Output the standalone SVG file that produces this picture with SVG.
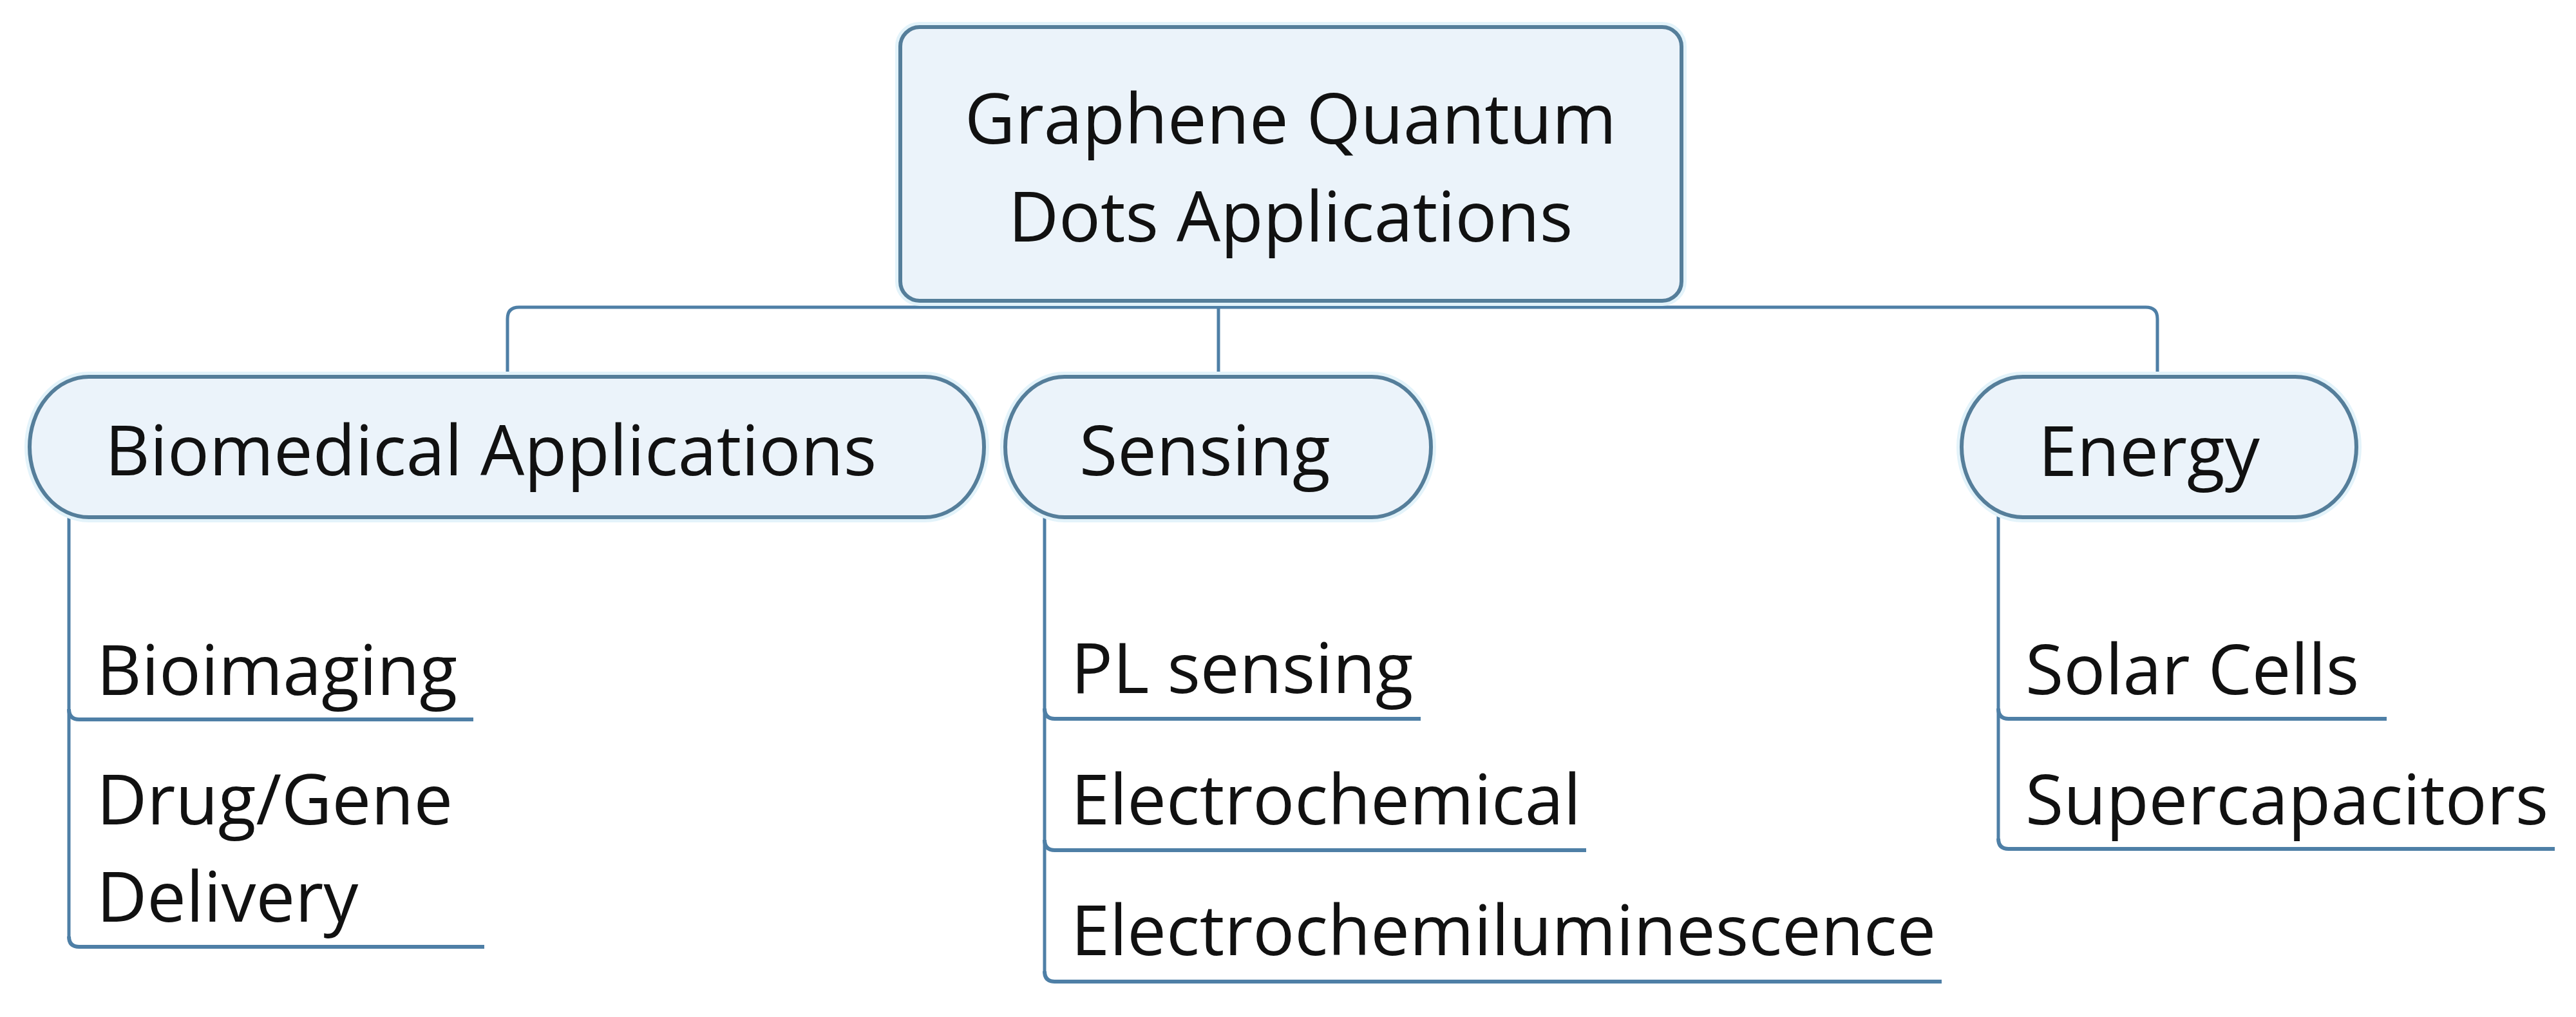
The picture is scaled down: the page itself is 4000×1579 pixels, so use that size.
<svg xmlns="http://www.w3.org/2000/svg" width="4000" height="1579" viewBox="0 0 4000 1579">
<style>
.box{fill:#EBF3FA;stroke:#557E9A;stroke-width:6}
.halo{fill:none;stroke:#E3F3FA;stroke-width:16}
.ln{fill:none;stroke:#4E7FA6;stroke-width:5;stroke-linecap:butt}
.ul{fill:none;stroke:#4E7FA6;stroke-width:6}
text{font-family:"Open Sans","Noto Sans","Liberation Sans",sans-serif;font-size:108px;fill:#111111}
</style>
<rect width="4000" height="1579" fill="#FFFFFF"/>
<g id="connectors">
<path class="ln" d="M2009,467 V477"/>
<path class="ln" d="M788,584 V495 Q788,477 806,477 H3332 Q3350,477 3350,495 V584"/>
<path class="ln" d="M1892,477 V584"/>
<path class="ln" d="M107,790 V1454"/>
<path class="ul" d="M107,1101 Q107,1117 123,1117 H735"/>
<path class="ul" d="M107,1454 Q107,1470 123,1470 H752"/>
<path class="ln" d="M1622,790 V1508"/>
<path class="ul" d="M1622,1100 Q1622,1116 1638,1116 H2206"/>
<path class="ul" d="M1622,1304 Q1622,1320 1638,1320 H2463"/>
<path class="ul" d="M1622,1508 Q1622,1524 1638,1524 H3015"/>
<path class="ln" d="M3103,790 V1302"/>
<path class="ul" d="M3103,1100 Q3103,1116 3119,1116 H3706"/>
<path class="ul" d="M3103,1302 Q3103,1318 3119,1318 H3967"/>
</g>
<g id="root">
<rect class="halo" x="1398" y="42" width="1213" height="425" rx="30" ry="30"/>
<rect class="box" x="1398" y="42" width="1213" height="425" rx="30" ry="30"/>
<text x="2004" y="223" text-anchor="middle">Graphene Quantum</text>
<text x="2004" y="375" text-anchor="middle">Dots Applications</text>
</g>
<g id="biomedical">
<rect class="halo" x="46" y="585" width="1482" height="218" rx="92" ry="109"/>
<rect class="box" x="46" y="585" width="1482" height="218" rx="92" ry="109"/>
<text x="163" y="738">Biomedical Applications</text>
</g>
<g id="sensing">
<rect class="halo" x="1561" y="585" width="661" height="218" rx="92" ry="109"/>
<rect class="box" x="1561" y="585" width="661" height="218" rx="92" ry="109"/>
<text x="1676" y="738">Sensing</text>
</g>
<g id="energy">
<rect class="halo" x="3046" y="585" width="613" height="218" rx="95" ry="109"/>
<rect class="box" x="3046" y="585" width="613" height="218" rx="95" ry="109"/>
<text x="3165" y="739">Energy</text>
</g>
<g id="bioimaging"><text x="150" y="1079">Bioimaging</text></g>
<g id="drug-gene-delivery"><text x="150" y="1280">Drug/Gene</text><text x="150" y="1431">Delivery</text></g>
<g id="pl-sensing"><text x="1663" y="1076">PL sensing</text></g>
<g id="electrochemical"><text x="1663" y="1280">Electrochemical</text></g>
<g id="ecl"><text x="1663" y="1483">Electrochemiluminescence</text></g>
<g id="solar-cells"><text x="3145" y="1078">Solar Cells</text></g>
<g id="supercapacitors"><text x="3145" y="1280">Supercapacitors</text></g>
</svg>
